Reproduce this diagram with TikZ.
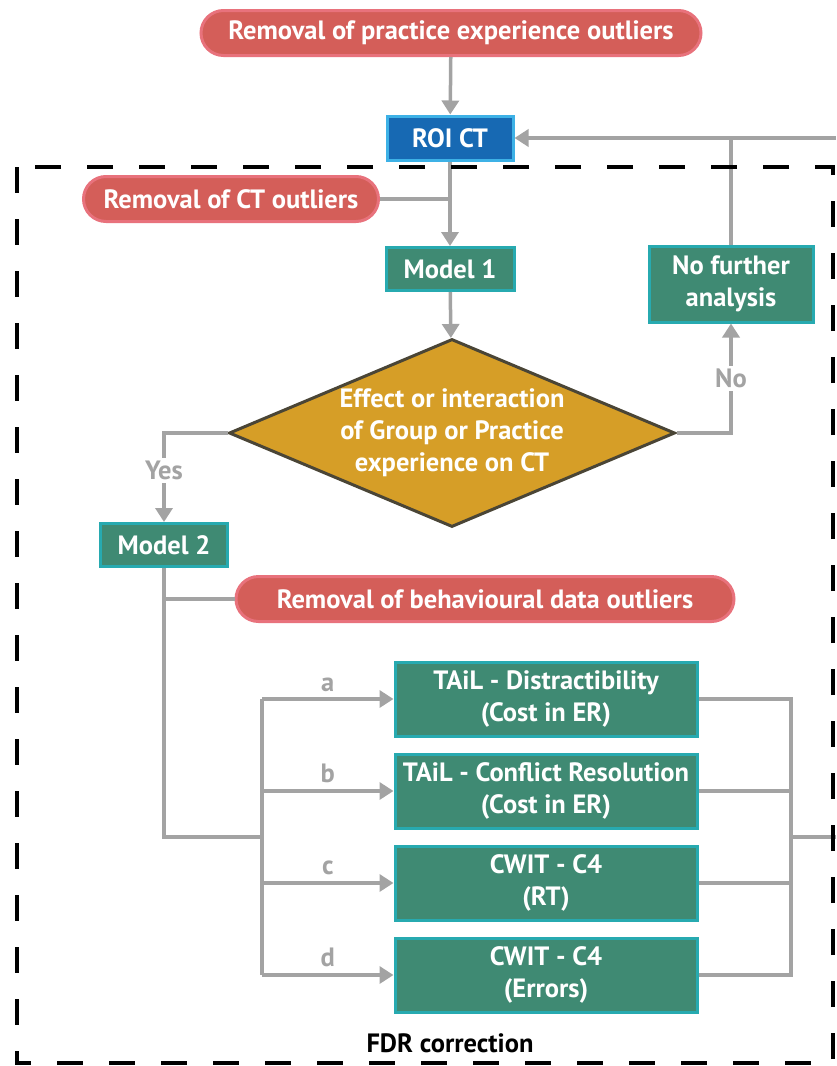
\documentclass[tikz,border=0pt]{standalone}
\usepackage{fontspec}
\setmainfont{PT Sans}
\usetikzlibrary{shapes.geometric,shapes.misc,arrows.meta}
\definecolor{pillred}{HTML}{D45E59}
\definecolor{pillrim}{HTML}{E8727C}
\definecolor{boxgreen}{HTML}{3F8A73}
\definecolor{boxrim}{HTML}{27AAB0}
\definecolor{roiblue}{HTML}{1769B3}
\definecolor{roirim}{HTML}{3DB1E6}
\definecolor{gold}{HTML}{D69E27}
\definecolor{goldrim}{HTML}{4A4536}
\definecolor{wiregray}{HTML}{A3A3A3}

\begin{document}
\begin{tikzpicture}[x = 1pt, y = -1pt,
    every node/.style = {font = \fontsize{26.5}{32}\selectfont\bfseries, inner sep = 0pt},
    pill/.style = {rounded rectangle, draw = pillrim, fill = pillred, line width = 3pt, text = white, minimum height = 45pt},
    greenbox/.style = {draw = boxrim, fill = boxgreen, line width = 3pt, text = white, align = center},
    wire/.style = {draw = wiregray, line width = 3.5pt},
    arr/.style = {wire, -{Triangle[length = 14pt, width = 17pt]}},
    tag/.style = {text = wiregray}]
    \useasboundingbox (0,0) rectangle (836,1066);
    \node[pill, minimum width = 500pt] (pracout) at (451,33) {Removal of practice experience outliers};
    \node[draw = roirim, fill = roiblue, line width = 3pt, text = white, minimum width = 126pt, minimum height = 44pt] (roi) at (450,138) {ROI CT};
    \node[pill, minimum width = 295pt] (ctout) at (231,199) {Removal of CT outliers};
    \node[greenbox, minimum width = 128pt, minimum height = 43pt] (modelone) at (450,269) {Model 1};
    \node[greenbox, minimum width = 164pt, minimum height = 76pt] (nofurther) at (731,284) {No further\\analysis};
    \node[diamond, aspect = 2.37, inner sep = -30pt, draw = goldrim, fill = gold, line width = 3pt, text = white, align = center, minimum width = 446pt, minimum height = 188pt] (effect) at (452,433) {Effect or interaction\\of Group or Practice\\experience on CT};
    \node[greenbox, minimum width = 127pt, minimum height = 43pt] (modeltwo) at (164,545) {Model 2};
    \node[pill, minimum width = 498pt] (behout) at (485,599) {Removal of behavioural data outliers};
    \node[greenbox, minimum width = 302pt, minimum height = 74pt] (distract) at (546,699) {TAiL - Distractibility\\(Cost in ER)};
    \node[greenbox, minimum width = 302pt, minimum height = 74pt] (conflict) at (546,791) {TAiL - Conflict Resolution\\(Cost in ER)};
    \node[greenbox, minimum width = 302pt, minimum height = 74pt] (cwitrt) at (546,883) {CWIT - C4\\(RT)};
    \node[greenbox, minimum width = 302pt, minimum height = 74pt] (cwiterr) at (546,975) {CWIT - C4\\(Errors)};
    \node (fdr) at (450,1043) {FDR correction};
    \coordinate (rightin) at (836,138);
    \coordinate (joinl) at (262,837);
    \coordinate (joinr) at (791,837);
    \coordinate (rightout) at (836,837);
    % main line
    \draw[arr] (pracout) -- (roi);
    \draw[arr] (roi) -- (modelone);
    \draw[wire] (ctout.east) -- (ctout.east -| roi.south);
    \draw[arr] (modelone) -- (effect);
    \draw[arr] (effect.east) -| node[pos = 0.75, tag, fill = white, inner sep = 3pt] {No} (nofurther.south);
    \draw[arr] (effect.west) -| node[pos = 0.71, tag, fill = white, inner sep = 3pt] {Yes} (modeltwo.north);
    \draw[arr] (rightin) -- (roi.east);
    \draw[wire] (nofurther.north) -- (nofurther.north |- roi.east);
    % outcomes
    \draw[wire] (modeltwo.south) |- (joinl);
    \draw[wire] (modeltwo.south |- behout.west) -- (behout.west);
    \draw[wire] (joinl |- distract.west) -- (joinl |- cwiterr.west);
    \foreach \test/\lab in {distract/a, conflict/b, cwitrt/c, cwiterr/d}
        \draw[arr] (joinl |- \test.west) -- node[tag, above = 6pt] {\lab} (\test.west);
    \draw[wire] (distract.east) -| (joinr |- cwiterr.east) -- (cwiterr.east);
    \foreach \test in {conflict, cwitrt}
        \draw[wire] (\test.east) -- (joinr |- \test.east);
    \draw[wire] (joinr) -- (rightout);
    % FDR frame
    \draw[line width = 4pt, dash pattern = on 26pt off 26pt] (17,167) rectangle (833,1063);
\end{tikzpicture}
\end{document}
